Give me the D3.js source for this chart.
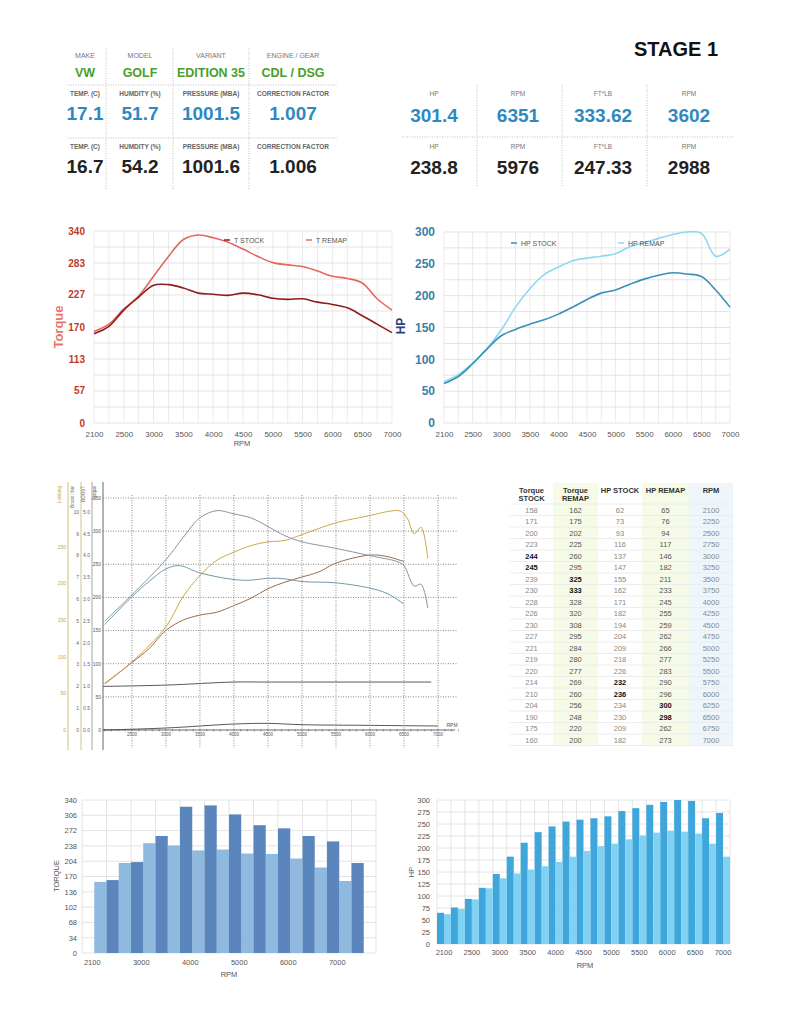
<!DOCTYPE html>
<html>
<head>
<meta charset="utf-8">
<script src="https://cdn.jsdelivr.net/npm/d3@7"></script>
<style>
body { margin: 0; background: #fff; }
svg { display: block; font-family: "Liberation Sans", Arial, Helvetica, sans-serif; }
</style>
</head>
<body>
<script>
// ---- data ----
var rpm = [2100,2250,2500,2750,3000,3250,3500,3750,4000,4250,4500,4750,5000,5250,5500,5750,6000,6250,6500,6750,7000];
var torqueStock = [158,171,200,223,244,245,239,230,228,226,230,227,221,219,220,214,210,204,190,175,160];
var torqueRemap = [162,175,202,225,260,295,325,333,328,320,308,295,284,280,277,269,260,256,248,220,200];
var hpStock = [62,73,93,116,137,147,155,162,171,182,194,204,209,218,226,232,236,234,230,209,182];
var hpRemap = [65,76,94,117,146,182,211,233,245,255,259,262,266,277,283,290,296,300,298,262,273];

var rpmTicks = [2100,2500,3000,3500,4000,4500,5000,5500,6000,6500,7000];
var torqueTicks = [0,57,113,170,227,283,340];
var hpTicks = [0,50,100,150,200,250,300];
var barTorqueLabels = ["2100","3000","4000","5000","6000","7000"];

var infoLabels = ["MAKE","MODEL","VARIANT","ENGINE / GEAR"];
var infoValues = ["VW","GOLF","EDITION 35","CDL / DSG"];
var condLabels = ["TEMP. (C)","HUMDITY (%)","PRESSURE (MBA)","CORRECTION FACTOR"];
var condRemap = ["17.1","51.7","1001.5","1.007"];
var condStock = ["16.7","54.2","1001.6","1.006"];
var peakLabels = ["HP","RPM","FT*LB","RPM"];
var peakRemap = ["301.4","6351","333.62","3602"];
var peakStock = ["238.8","5976","247.33","2988"];

var tableHeads = [["Torque","STOCK"],["Torque","REMAP"],["HP STOCK"],["HP REMAP"],["RPM"]];
var tableBold = [[4,5],[6,7],[15,16],[17,18],[]];

// scanned dyno sheet curves
var scanTqRemapRpm = [2100,2500,3000,3250,3500,3750,4000,4250,4500,4750,5000,5500,6000,6400,6500,6650,6750,6850];
var scanTqRemap = [164,204,257,290,320,331,326,320,307,293,284,274,263,254,248,217,220,184];
var scanTqStockRpm = [2100,2500,2750,3000,3200,3500,4000,4250,4500,4750,5000,5500,6000,6250,6500];
var scanTqStock = [159,201,224,243,248,237,227,226,229,228,224,222,214,206,190];
var scanPwRemapRpm = [2100,2500,3000,3250,3500,3750,4000,4250,4500,4750,5000,5500,6000,6300,6450,6550,6650,6750,6850];
var scanPwRemap = [64,93,141,182,211,232,243,252,257,259,267,283,293,299,299,289,268,277,234];
var scanPwStockRpm = [2100,2500,2750,3000,3250,3500,3750,4000,4250,4500,4750,5000,5250,5500,6000,6250,6500];
var scanPwStock = [63,92,111,136,150,157,161,170,180,193,202,209,216,228,239,237,230];
var scanBoostRpm = [2075,3000,4000,4500,6900];
var scanBoost = [1.0,1.03,1.1,1.1,1.1];
var scanLossRpm = [2075,3000,4000,4500,5000,6000,7000];
var scanLoss = [0,3,9,10,8,7,6];
var scanRpmTicks = [2500,3000,3500,4000,4500,5000,5500,6000,6500,7000];
var scanTqTicks = [0,50,100,150,200,250,300,350];
var scanPwTicks = [0,50,100,150,200,250];
var scanBoostTicks = [0,0.5,1,1.5,2,2.5,3,3.5,4,4.5,5];
var scanIdxTicks = [0,1,2,3,4,5,6,7,8,9,10];
var scanTitles = ["Leistung","Boost / bar","BOOST","Torque"];

var svg = d3.select("body").append("svg")
  .attr("width", 786)
  .attr("height", 1024);

function dotted(x1, y1, x2, y2, color) {
  svg.append("line")
    .attr("x1", x1).attr("y1", y1).attr("x2", x2).attr("y2", y2)
    .attr("stroke", color || "#bdbdbd")
    .attr("stroke-dasharray", "1,1.5");
}

function textRow(items, xs, y, size, color, weight) {
  svg.append("g").selectAll("text")
    .data(items)
    .enter().append("text")
    .attr("x", function(d, i) { return xs[i]; })
    .attr("y", y)
    .attr("text-anchor", "middle")
    .attr("font-size", size)
    .attr("font-weight", weight || "normal")
    .attr("fill", color)
    .text(function(d) { return d; });
}

// ---- header ----
var leftCols = [85, 140, 211, 293];
var rightCols = [434, 518, 603, 689];
var blue = "#2f88c0";

dotted(68, 85, 338, 85);
dotted(68, 138, 338, 138);
[106, 173, 249].forEach(function(x) { dotted(x, 48, x, 190); });
textRow(infoLabels, leftCols, 58, 7, "#777");
textRow(infoValues, leftCols, 77, 12.5, "#4a9e2b", "bold");
textRow(condLabels, leftCols, 96, 6.5, "#666", "bold");
textRow(condRemap, leftCols, 120, 19, blue, "bold");
textRow(condLabels, leftCols, 149, 6.5, "#666", "bold");
textRow(condStock, leftCols, 173, 19, "#222", "bold");

svg.append("text")
  .attr("x", 676).attr("y", 56)
  .attr("text-anchor", "middle")
  .attr("font-size", 20).attr("font-weight", "bold").attr("fill", "#111")
  .text("STAGE 1");
dotted(402, 137, 733, 137);
[477, 562, 647].forEach(function(x) { dotted(x, 85, x, 187); });
textRow(peakLabels, rightCols, 96, 6.5, "#777");
textRow(peakRemap, rightCols, 122, 19, blue, "bold");
textRow(peakLabels, rightCols, 149, 6.5, "#777");
textRow(peakStock, rightCols, 174, 19, "#222", "bold");

// ---- line charts ----
function renderLine(cfg) {
  let x = d3.scalePoint().domain(rpm).range([cfg.x0, cfg.x1]);
  let y = d3.scaleLinear().domain([0, cfg.max]).range([cfg.y1, cfg.y0]);
  let g = svg.append("g");

  g.selectAll(".vg").data(rpm).enter().append("line")
    .attr("x1", function(d) { return x(d); }).attr("x2", function(d) { return x(d); })
    .attr("y1", cfg.y0).attr("y2", cfg.y1)
    .attr("stroke", "#ebebeb");
  g.selectAll(".hg").data(cfg.grid).enter().append("line")
    .attr("x1", cfg.x0).attr("x2", cfg.x1)
    .attr("y1", function(d) { return y(d); }).attr("y2", function(d) { return y(d); })
    .attr("stroke", "#e3e3e3");

  let line = d3.line()
    .x(function(d, i) { return x(rpm[i]); })
    .y(function(d) { return y(d); })
    .curve(d3.curveCatmullRom);
  cfg.series.forEach(function(s) {
    g.append("path")
      .datum(s.values)
      .attr("d", line)
      .attr("fill", "none")
      .attr("stroke", s.color)
      .attr("stroke-width", 1.6);
  });

  g.selectAll(".yl").data(cfg.ticks).enter().append("text")
    .attr("x", cfg.x0 - 9)
    .attr("y", function(d) { return y(d) + cfg.labelSize * 0.36; })
    .attr("text-anchor", "end")
    .attr("font-size", cfg.labelSize).attr("font-weight", "bold")
    .attr("fill", cfg.labelColor)
    .text(function(d) { return d; });

  let ax = g.append("g")
    .attr("transform", "translate(0," + (cfg.y1 + 5) + ")")
    .call(d3.axisBottom(x).tickValues(rpmTicks).tickSize(0));
  ax.select(".domain").remove();
  ax.selectAll("text").attr("font-size", 8).attr("fill", "#555")
    .attr("font-family", "Liberation Sans, Arial, sans-serif");

  //legend
  cfg.legend.forEach(function(l) {
    g.append("line")
      .attr("x1", l.x - 3).attr("x2", l.x + 3)
      .attr("y1", cfg.legendY).attr("y2", cfg.legendY)
      .attr("stroke", l.color).attr("stroke-width", 1.5);
    g.append("text")
      .attr("x", l.x + 7).attr("y", cfg.legendY + 2.5)
      .attr("font-size", 7).attr("fill", "#555")
      .text(l.label);
  });
}

var tStockColor = "#8e1c1c", tRemapColor = "#e4675e";
var hStockColor = "#3a8fb7", hRemapColor = "#8fd8ef";

renderLine({
  x0: 94, x1: 392, y0: 231, y1: 423, max: 340,
  ticks: torqueTicks, grid: d3.range(0, 340.01, 340 / 12),
  labelSize: 10, labelColor: "#c0392b",
  series: [{values: torqueRemap, color: tRemapColor}, {values: torqueStock, color: tStockColor}],
  legendY: 240,
  legend: [{label: "T STOCK", x: 227, color: tStockColor}, {label: "T REMAP", x: 309, color: tRemapColor}]
});
renderLine({
  x0: 444, x1: 730, y0: 232, y1: 423, max: 300,
  ticks: hpTicks, grid: d3.range(0, 301, 25),
  labelSize: 12, labelColor: "#3d7fa8",
  series: [{values: hpRemap, color: hRemapColor}, {values: hpStock, color: hStockColor}],
  legendY: 243,
  legend: [{label: "HP STOCK", x: 514, color: hStockColor}, {label: "HP REMAP", x: 621, color: hRemapColor}]
});

svg.append("text")
  .attr("transform", "translate(63,327) rotate(-90)")
  .attr("text-anchor", "middle")
  .attr("font-size", 13).attr("font-weight", "bold").attr("fill", "#e9766c")
  .text("Torque");
svg.append("text")
  .attr("transform", "translate(405,326) rotate(-90)")
  .attr("text-anchor", "middle")
  .attr("font-size", 12).attr("font-weight", "bold").attr("fill", "#2b3f7f")
  .text("HP");
svg.append("text")
  .attr("x", 242).attr("y", 446)
  .attr("text-anchor", "middle")
  .attr("font-size", 7.5).attr("fill", "#555")
  .text("RPM");

// ---- scanned dyno sheet ----
var sx = d3.scaleLinear().domain([2075, 7000]).range([103, 438]);
var sTq = d3.scaleLinear().domain([0, 350]).range([730, 498]);
var sPw = d3.scaleLinear().domain([0, 250]).range([730, 547]);
var sBoost = d3.scaleLinear().domain([0, 5]).range([730, 512]);
var sIdx = d3.scaleLinear().domain([0, 10]).range([730, 512]);

var scan = svg.append("g");
scanTqTicks.slice(1).forEach(function(v) { dotted(103, sTq(v), 457, sTq(v), "#888"); });
scanRpmTicks.forEach(function(v) { dotted(sx(v), 495, sx(v), 748, "#888"); });

var scanAxes = [
  {x: 68, color: "#cdb86a", scale: sPw, ticks: scanPwTicks, fmt: d3.format("d"), lab: "#c4a93c"},
  {x: 81, color: "#c9c08a", scale: sIdx, ticks: scanIdxTicks, fmt: d3.format("d"), lab: "#666"},
  {x: 92, color: "#9a9a9a", scale: sBoost, ticks: scanBoostTicks, fmt: d3.format(".1f"), lab: "#666"},
  {x: 103, color: "#555", scale: sTq, ticks: scanTqTicks, fmt: d3.format("d"), lab: "#555"}
];
scanAxes.forEach(function(a, k) {
  scan.append("line")
    .attr("x1", a.x).attr("x2", a.x).attr("y1", 482).attr("y2", 750)
    .attr("stroke", a.color).attr("stroke-width", 0.9);
  scan.selectAll(".t" + k).data(a.ticks).enter().append("text")
    .attr("x", a.x - 2)
    .attr("y", function(d) { return a.scale(d) + 1.8; })
    .attr("text-anchor", "end")
    .attr("font-size", 5).attr("fill", a.lab)
    .text(a.fmt);
  scan.append("text")
    .attr("transform", "translate(" + (a.x - 7) + ",486) rotate(-90)")
    .attr("text-anchor", "end")
    .attr("font-size", 4.5).attr("fill", a.lab)
    .text(scanTitles[k]);
});

// bottom axis with little ticks
scan.append("line")
  .attr("x1", 103).attr("x2", 455).attr("y1", 730).attr("y2", 730)
  .attr("stroke", "#444").attr("stroke-width", 0.8);
scan.selectAll(".st").data(d3.range(2100, 7301, 100)).enter().append("line")
  .attr("x1", function(d) { return sx(d); }).attr("x2", function(d) { return sx(d); })
  .attr("y1", 729).attr("y2", 731.5)
  .attr("stroke", "#555").attr("stroke-width", 0.5);
scan.selectAll(".sxl").data(scanRpmTicks).enter().append("text")
  .attr("x", function(d) { return sx(d); })
  .attr("y", 736)
  .attr("text-anchor", "middle")
  .attr("font-size", 4.5).attr("fill", "#555")
  .text(function(d) { return d; });
scan.append("text")
  .attr("x", 452).attr("y", 727)
  .attr("text-anchor", "middle")
  .attr("font-size", 5).attr("fill", "#555")
  .text("RPM");

function scanCurve(xs, ys, yScale, color, w) {
  let l = d3.line()
    .x(function(d, i) { return sx(xs[i]); })
    .y(function(d) { return yScale(d); })
    .curve(d3.curveCatmullRom);
  scan.append("path")
    .datum(ys)
    .attr("d", l)
    .attr("fill", "none")
    .attr("stroke", color)
    .attr("stroke-width", w || 1);
}
scanCurve(scanLossRpm, scanLoss, sTq, "#444", 0.9);
scanCurve(scanBoostRpm, scanBoost, sBoost, "#444", 0.9);
scanCurve(scanPwStockRpm, scanPwStock, sPw, "#9c6b45");
scanCurve(scanPwRemapRpm, scanPwRemap, sPw, "#cba94a");
scanCurve(scanTqStockRpm, scanTqStock, sTq, "#6f98a8");
scanCurve(scanTqRemapRpm, scanTqRemap, sTq, "#8b93a2");

// ---- table ----
var colEdges = [510, 553, 598, 642, 689, 733];
var tableCols = [torqueStock, torqueRemap, hpStock, hpRemap, rpm];
var colBg = [null, "#f5fbe7", null, "#f5fbe7", "#eef6fb"];
var ty = d3.scaleBand().domain(d3.range(rpm.length)).range([504, 745.5]);
var tbl = svg.append("g");

colBg.forEach(function(c, i) {
  if (!c) return;
  tbl.append("rect")
    .attr("x", colEdges[i]).attr("y", 483)
    .attr("width", colEdges[i + 1] - colEdges[i]).attr("height", 263)
    .attr("fill", c);
});
tbl.selectAll(".rl").data(d3.range(rpm.length + 1)).enter().append("line")
  .attr("x1", colEdges[0]).attr("x2", colEdges[5])
  .attr("y1", function(d) { return d < rpm.length ? ty(d) : 745.5; })
  .attr("y2", function(d) { return d < rpm.length ? ty(d) : 745.5; })
  .attr("stroke", "#ececec");

tableHeads.forEach(function(h, c) {
  let cx = (colEdges[c] + colEdges[c + 1]) / 2;
  h.forEach(function(t, k) {
    tbl.append("text")
      .attr("x", cx).attr("y", 493 + k * 8)
      .attr("text-anchor", "middle")
      .attr("font-size", 7.5).attr("font-weight", "bold").attr("fill", "#333")
      .text(t);
  });
  tbl.selectAll(".c" + c).data(tableCols[c]).enter().append("text")
    .attr("x", cx)
    .attr("y", function(d, i) { return ty(i) + ty.bandwidth() / 2 + 2.8; })
    .attr("text-anchor", "middle")
    .attr("font-size", 7.5)
    .attr("font-weight", function(d, i) { return tableBold[c].indexOf(i) !== -1 ? "bold" : "normal"; })
    .attr("fill", function(d, i) {
      if (tableBold[c].indexOf(i) !== -1) return "#111";
      return (c === 1 || c === 3) ? "#555" : "#888";
    })
    .text(function(d) { return d; });
});

// ---- torque bars ----
var barRpm = rpm.filter(function(d, i) { return i % 2 === 0; });
var barStock = torqueStock.filter(function(d, i) { return i % 2 === 0; });
var barRemap = torqueRemap.filter(function(d, i) { return i % 2 === 0; });

var bx = d3.scaleBand().domain(barRpm).range([82, 376]).paddingOuter(0.5).paddingInner(0);
var by = d3.scaleLinear().domain([0, 340]).range([953, 800]);
var bw = bx.bandwidth();
var tb = svg.append("g");

tb.selectAll(".hg").data(d3.range(0, 341, 34)).enter().append("line")
  .attr("x1", 82).attr("x2", 376)
  .attr("y1", function(d) { return by(d); }).attr("y2", function(d) { return by(d); })
  .attr("stroke", "#e4e4e4");
tb.selectAll(".vg").data(barRpm).enter().append("line")
  .attr("x1", function(d) { return bx(d) + bw / 2; }).attr("x2", function(d) { return bx(d) + bw / 2; })
  .attr("y1", 800).attr("y2", 953)
  .attr("stroke", "#e4e4e4");
[82, 376].forEach(function(x) {
  tb.append("line").attr("x1", x).attr("x2", x).attr("y1", 800).attr("y2", 953).attr("stroke", "#e4e4e4");
});
tb.selectAll(".bs").data(barStock).enter().append("rect")
  .attr("x", function(d, i) { return bx(barRpm[i]); })
  .attr("y", function(d) { return by(d); })
  .attr("width", bw / 2)
  .attr("height", function(d) { return by(0) - by(d); })
  .attr("fill", "#8fb9de");
tb.selectAll(".br").data(barRemap).enter().append("rect")
  .attr("x", function(d, i) { return bx(barRpm[i]) + bw / 2; })
  .attr("y", function(d) { return by(d); })
  .attr("width", bw / 2)
  .attr("height", function(d) { return by(0) - by(d); })
  .attr("fill", "#5a86bd");
tb.selectAll(".yl").data(d3.range(0, 341, 34)).enter().append("text")
  .attr("x", 77).attr("y", function(d) { return by(d) + 2.8; })
  .attr("text-anchor", "end").attr("font-size", 7.5).attr("fill", "#555")
  .text(function(d) { return d; });
tb.selectAll(".xl").data(barTorqueLabels).enter().append("text")
  .attr("x", function(d, i) { return bx(barRpm[i * 2]) - 2; })
  .attr("y", 965)
  .attr("text-anchor", "middle").attr("font-size", 7.5).attr("fill", "#555")
  .text(function(d) { return d; });
tb.append("text")
  .attr("transform", "translate(59,876) rotate(-90)")
  .attr("text-anchor", "middle").attr("font-size", 7.5).attr("fill", "#555")
  .text("TORQUE");
tb.append("text")
  .attr("x", 229).attr("y", 977)
  .attr("text-anchor", "middle").attr("font-size", 7.5).attr("fill", "#555")
  .text("RPM");

// ---- hp bars ----
var hx = d3.scaleBand().domain(rpm).range([437, 730]);
var hy = d3.scaleLinear().domain([0, 300]).range([944, 800]);
var hw = hx.bandwidth();
var hb = svg.append("g");

hb.selectAll(".hg").data(d3.range(0, 301, 25)).enter().append("line")
  .attr("x1", 437).attr("x2", 730)
  .attr("y1", function(d) { return hy(d); }).attr("y2", function(d) { return hy(d); })
  .attr("stroke", "#e4e4e4");
hb.selectAll(".vg").data(rpm.concat(["end"])).enter().append("line")
  .attr("x1", function(d) { return d === "end" ? 730 : hx(d); })
  .attr("x2", function(d) { return d === "end" ? 730 : hx(d); })
  .attr("y1", 800).attr("y2", 944)
  .attr("stroke", "#e4e4e4");
hb.selectAll(".br").data(hpRemap).enter().append("rect")
  .attr("x", function(d, i) { return hx(rpm[i]); })
  .attr("y", function(d) { return hy(d); })
  .attr("width", hw / 2)
  .attr("height", function(d) { return hy(0) - hy(d); })
  .attr("fill", "#3ea6da");
hb.selectAll(".bs").data(hpStock).enter().append("rect")
  .attr("x", function(d, i) { return hx(rpm[i]) + hw / 2; })
  .attr("y", function(d) { return hy(d); })
  .attr("width", hw / 2)
  .attr("height", function(d) { return hy(0) - hy(d); })
  .attr("fill", "#80d2f5");
hb.selectAll(".yl").data(d3.range(0, 301, 25)).enter().append("text")
  .attr("x", 430).attr("y", function(d) { return hy(d) + 2.8; })
  .attr("text-anchor", "end").attr("font-size", 7.5).attr("fill", "#555")
  .text(function(d) { return d; });
var hax = hb.append("g")
  .attr("transform", "translate(0,947)")
  .call(d3.axisBottom(hx).tickValues(rpmTicks).tickSize(0));
hax.select(".domain").remove();
hax.selectAll("text").attr("font-size", 7.5).attr("fill", "#555")
  .attr("font-family", "Liberation Sans, Arial, sans-serif");
hb.append("text")
  .attr("transform", "translate(414,872) rotate(-90)")
  .attr("text-anchor", "middle").attr("font-size", 7.5).attr("fill", "#555")
  .text("HP");
hb.append("text")
  .attr("x", 585).attr("y", 968)
  .attr("text-anchor", "middle").attr("font-size", 7.5).attr("fill", "#555")
  .text("RPM");
</script>
</body>
</html>
